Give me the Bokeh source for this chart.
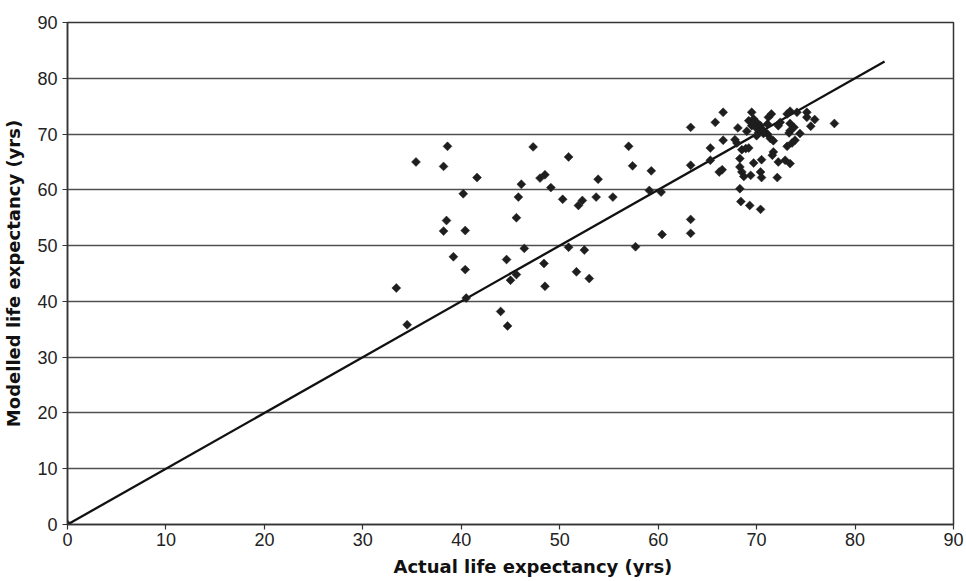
import math
from bokeh.plotting import figure
from bokeh.models import ColumnDataSource, FixedTicker, Title
from bokeh.embed import file_html
from bokeh.resources import INLINE

# Actual vs modelled life expectancy (years)
actual = [0.0, 33.4, 34.5, 35.4, 38.2, 38.2, 38.5, 38.6, 39.2, 40.2, 40.4, 40.4, 40.5, 41.6,
          44.0, 44.7, 44.6, 45.0, 45.6, 45.6, 45.8, 46.1, 46.4, 47.3, 48.0, 48.5, 48.4, 48.5,
          49.1, 50.3, 50.9, 50.9, 51.7, 51.9, 52.3, 52.5, 53.0, 53.7, 53.9, 55.4, 57.0, 57.4,
          57.7, 59.1, 59.3, 60.3, 60.4, 63.3, 63.3, 63.3, 63.3,
          65.3, 65.3, 65.8, 66.6, 66.6, 66.2, 66.5, 67.8, 68.0, 68.1, 68.5, 68.9, 69.2, 68.3,
          68.3, 68.5, 68.7, 69.4, 69.7, 70.5, 70.4, 70.5, 68.3, 68.4, 69.3, 70.4, 69.5, 69.2,
          69.7, 70.0, 69.5, 69.9, 70.4, 70.5, 70.2, 70.7, 71.1, 71.1, 71.4, 71.7, 71.2, 71.5,
          72.4, 72.2, 71.7, 71.6, 72.2, 72.9, 73.4, 72.1, 73.1, 73.6, 73.9, 74.4, 73.3, 73.4,
          73.8, 73.4, 73.1, 73.4, 74.1, 75.1, 75.1, 75.9, 75.5, 77.9, 70.0, 70.7, 69.0]
modelled = [0.0, 42.4, 35.8, 65.0, 64.2, 52.6, 54.5, 67.8, 48.0, 59.3, 45.7, 52.7, 40.6, 62.2,
            38.2, 35.6, 47.5, 43.8, 44.8, 55.0, 58.7, 61.0, 49.5, 67.7, 62.1, 62.7, 46.8, 42.7,
            60.4, 58.3, 65.9, 49.7, 45.3, 57.2, 58.1, 49.2, 44.1, 58.7, 61.9, 58.7, 67.8, 64.3,
            49.8, 59.9, 63.4, 59.6, 52.0, 71.2, 64.4, 54.7, 52.2,
            67.5, 65.3, 72.1, 73.9, 68.9, 63.2, 63.6, 69.0, 68.4, 71.1, 67.2, 67.4, 67.5, 65.6,
            64.1, 63.2, 62.4, 62.6, 64.8, 65.4, 63.2, 62.2, 60.2, 57.9, 57.2, 56.5, 73.9, 72.4,
            72.7, 72.1, 71.5, 71.2, 71.5, 70.9, 70.3, 70.6, 71.8, 70.0, 69.2, 68.8, 73.0, 73.6,
            72.1, 71.5, 66.8, 66.2, 65.0, 65.3, 64.7, 62.2, 67.8, 68.4, 68.9, 70.1, 70.2, 70.6,
            71.2, 71.9, 73.6, 74.1, 73.9, 73.9, 73.0, 72.6, 71.4, 71.9, 69.7, 70.1, 70.5]

line_x = [0, 83]
line_y = [0, 83]
ticks = [0, 10, 20, 30, 40, 50, 60, 70, 80, 90]

p = figure(width=966, height=581, x_range=(0, 90), y_range=(0, 90),
           output_backend="svg", toolbar_location=None,
           min_border_left=67, min_border_top=22, min_border_right=13, min_border_bottom=57)

p.background_fill_color = "white"
p.border_fill_color = "white"
p.outline_line_color = "#333333"
p.outline_line_width = 1.5

p.xgrid.grid_line_color = None
p.ygrid.grid_line_color = "#505050"
p.ygrid.grid_line_width = 1.4

for ax in (p.xaxis[0], p.yaxis[0]):
    ax.ticker = FixedTicker(ticks=ticks)
    ax.axis_line_color = "#333333"
    ax.axis_line_width = 1.5
    ax.major_tick_line_color = "#333333"
    ax.major_tick_line_width = 1.2
    ax.major_tick_out = 5
    ax.major_tick_in = 0
    ax.minor_tick_line_color = None
    ax.major_label_text_font = "Liberation Sans"
    ax.major_label_text_font_size = "18px"
    ax.major_label_text_color = "#222222"
    ax.axis_label_text_font = "DejaVu Sans"
    ax.axis_label_text_font_size = "18px"
    ax.axis_label_text_font_style = "bold"
    ax.axis_label_text_color = "#111111"

p.xaxis.major_label_standoff = 3
p.yaxis.major_label_standoff = 5
p.yaxis.axis_label = "Modelled life expectancy (yrs)"
p.yaxis.axis_label_standoff = 10

xtitle = Title(text="Actual life expectancy (yrs)", align="left", offset=326,
               text_font="DejaVu Sans", text_font_size="18px", text_font_style="bold",
               text_color="#111111", standoff=10)
p.add_layout(xtitle, "below")

p.line(line_x, line_y, line_color="#111111", line_width=2.3)

src = ColumnDataSource(dict(x=actual, y=modelled))
p.scatter("x", "y", source=src, marker="square", size=6.3, angle=math.pi / 4,
          fill_color="#1e1e1e", line_color="#1e1e1e", line_width=0.5)

open("out.html", "w").write(file_html(p, INLINE))
